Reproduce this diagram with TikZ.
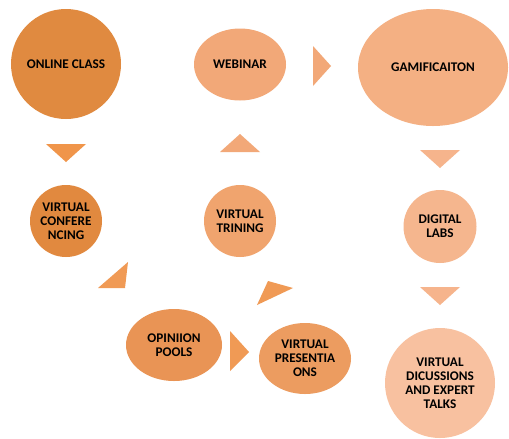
\documentclass[tikz,border=0pt]{standalone}
\usepackage{fontspec}
\setmainfont{Carlito}
\usetikzlibrary{shapes.geometric}
\definecolor{orange-dark}{HTML}{E08A40}
\definecolor{orange-conf}{HTML}{E1893F}
\definecolor{orange-pools}{HTML}{E99455}
\definecolor{orange-pres}{HTML}{EC9C60}
\definecolor{orange-train}{HTML}{F0A46E}
\definecolor{orange-web}{HTML}{F2A878}
\definecolor{orange-gam}{HTML}{F4B083}
\definecolor{orange-labs}{HTML}{F5B68E}
\definecolor{orange-talks}{HTML}{F8C1A0}
\definecolor{tri-a}{HTML}{F0954A}
\definecolor{tri-b}{HTML}{F09A55}
\definecolor{tri-c}{HTML}{F2A878}
\definecolor{tri-d}{HTML}{F6B48C}
\tikzset{
    step-text/.style = {font=\fontsize{13.3}{14.2}\selectfont\bfseries, text=black, align=center, inner sep=0pt},
    step-circle/.style = {step-text, circle, fill=#1, draw=none},
    step-ellipse/.style = {step-text, ellipse, fill=#1, draw=none},
    block-arrow/.style = {fill=#1, draw=none},
}

\begin{document}
\begin{tikzpicture}[x=1bp, y=-1bp]
\fill[white] (0,0) rectangle (509,434);
% top row
\node[step-circle=orange-dark, minimum size=110bp] (online) at (66,64) {ONLINE CLASS};
\node[step-ellipse=orange-web, minimum width=92bp, minimum height=72bp] (webinar) at (240,64.5) {WEBINAR};
\node[step-ellipse=orange-gam, minimum width=150bp, minimum height=117bp] (gamification) at (433,67.5) {GAMIFICAITON};
% middle row
\node[step-circle=orange-conf, minimum size=72bp] (conferencing) at (66,221) {VIRTUAL\\CONFERE\\NCING};
\node[step-circle=orange-train, minimum size=72bp] (training) at (240,221) {VIRTUAL\\TRINING};
\node[step-circle=orange-labs, minimum size=73bp] (labs) at (440,226.5) {DIGITAL\\LABS};
% bottom row
\node[step-ellipse=orange-pools, minimum width=96bp, minimum height=72bp] (pools) at (174,345) {OPINIION\\POOLS};
\node[step-ellipse=orange-pres, minimum width=92bp, minimum height=71bp] (presentations) at (305,358.5) {VIRTUAL\\PRESENTIA\\ONS};
\node[step-circle=orange-talks, minimum size=110bp] (talks) at (440,383) {VIRTUAL\\DICUSSIONS\\AND EXPERT\\TALKS};
% block arrows
\fill[block-arrow=tri-a] (46,144) -- (86,144) -- (66,162) -- cycle;
\fill[block-arrow=tri-b] (98,288) -- (128,262) -- (125,288) -- cycle;
\fill[block-arrow=tri-b] (230,331) -- (249,352) -- (230,371) -- cycle;
\fill[block-arrow=tri-b] (257,305) -- (268,281) -- (293,288) -- cycle;
\fill[block-arrow=tri-c] (220,152) -- (240,134) -- (260,152) -- cycle;
\fill[block-arrow=tri-c] (313,46) -- (331,66) -- (313,86) -- cycle;
\fill[block-arrow=tri-d] (420,150) -- (460,150) -- (440,168) -- cycle;
\fill[block-arrow=tri-d] (420,287) -- (460,287) -- (440,305) -- cycle;
\end{tikzpicture}
\end{document}
